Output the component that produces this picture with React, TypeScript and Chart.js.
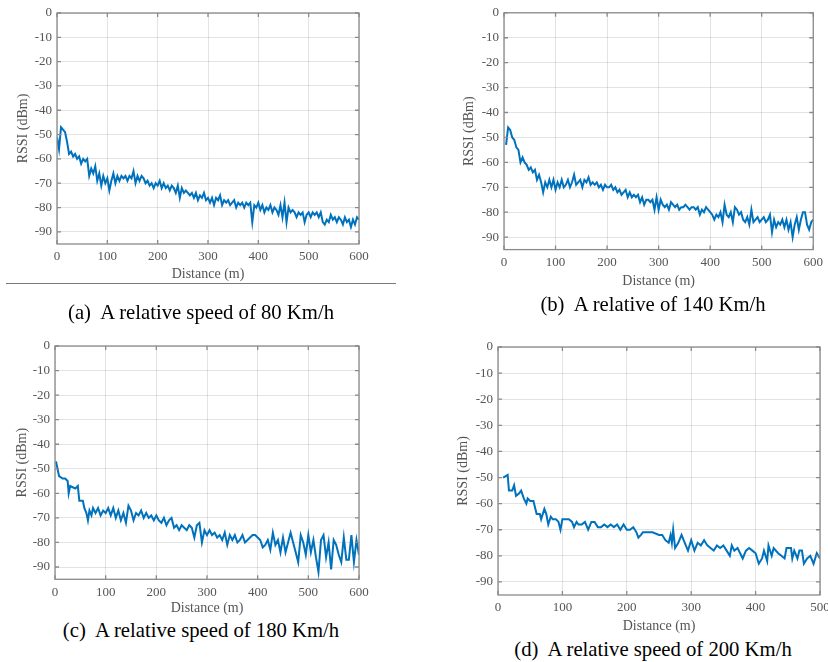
import React, { useEffect, useRef } from 'react';
import { Chart, registerables } from 'chart.js';

Chart.register(...registerables);

// ---------- data ----------
const yTickValues = [0, -10, -20, -30, -40, -50, -60, -70, -80, -90];
const xTicks600 = [0, 100, 200, 300, 400, 500, 600];
const xTicks500 = [0, 100, 200, 300, 400, 500];

const distA = [0,4,8,12,16,20,24,28,32,36,40,44,48,52,56,60,64,68,72,76,80,84,88,92,96,100,104,108,112,116,120,124,128,132,136,140,144,148,152,156,160,164,168,172,176,180,184,188,192,196,200,204,208,212,216,220,224,228,232,236,240,244,248,252,256,260,264,268,272,276,280,284,288,292,296,300,304,308,312,316,320,324,328,332,336,340,344,348,352,356,360,364,368,372,376,380,384,388,392,396,400,404,408,412,416,420,424,428,432,436,440,444,448,452,456,460,464,468,472,476,480,484,488,492,496,500,504,508,512,516,520,524,528,532,536,540,544,548,552,556,560,564,568,572,576,580,584,588,592,596,600];
const rssiA = [-51,-56,-47,-48,-49,-53,-58,-57,-59,-58,-60,-59,-62,-60,-61,-60,-67,-64,-66,-63,-69,-66,-71,-67,-70,-68,-73,-69,-66,-70,-67,-69,-67,-68,-67,-69,-67,-68,-65,-70,-67,-69,-67,-68,-70,-69,-71,-70,-72,-70,-71,-69,-72,-70,-72,-71,-73,-71,-72,-74,-71,-76,-72,-74,-73,-74,-75,-74,-76,-74,-77,-75,-76,-74,-77,-76,-78,-76,-79,-76,-77,-75,-79,-77,-78,-77,-79,-78,-77,-80,-78,-79,-78,-80,-78,-79,-78,-86,-79,-80,-78,-81,-79,-82,-80,-81,-79,-82,-80,-81,-83,-79,-84,-78,-86,-80,-82,-81,-82,-84,-82,-83,-82,-86,-83,-82,-84,-82,-83,-82,-84,-82,-86,-87,-85,-86,-83,-85,-84,-86,-84,-85,-87,-84,-86,-85,-88,-85,-87,-84,-85];

const distB = [4,8,12,16,20,24,28,32,36,40,44,48,52,56,60,64,68,72,76,80,84,88,92,96,100,104,108,112,116,120,124,128,132,136,140,144,148,152,156,160,164,168,172,176,180,184,188,192,196,200,204,208,212,216,220,224,228,232,236,240,244,248,252,256,260,264,268,272,276,280,284,288,292,296,300,304,308,312,316,320,324,328,332,336,340,344,348,352,356,360,364,368,372,376,380,384,388,392,396,400,404,408,412,416,420,424,428,432,436,440,444,448,452,456,460,464,468,472,476,480,484,488,492,496,500,504,508,512,516,520,524,528,532,536,540,544,548,552,556,560,564,568,572,576,580,584,588,592,596,600];
const rssiB = [-53,-46,-47,-50,-51,-54,-55,-60,-58,-60,-61,-63,-62,-64,-63,-67,-65,-68,-72,-68,-70,-67,-70,-67,-71,-68,-70,-67,-70,-69,-67,-70,-68,-65,-69,-68,-67,-70,-67,-68,-66,-69,-68,-69,-68,-70,-69,-71,-69,-70,-70,-69,-71,-70,-72,-71,-73,-72,-71,-74,-72,-74,-73,-74,-73,-76,-74,-77,-75,-75,-76,-75,-79,-74,-79,-75,-77,-78,-77,-79,-76,-77,-78,-77,-79,-78,-78,-77,-78,-79,-78,-78,-79,-78,-81,-79,-80,-78,-79,-80,-81,-83,-81,-82,-80,-84,-77,-81,-82,-80,-84,-78,-79,-81,-80,-83,-84,-82,-85,-79,-84,-83,-82,-84,-83,-82,-84,-83,-81,-88,-83,-86,-84,-85,-83,-86,-83,-87,-84,-90,-85,-82,-87,-83,-80,-80,-85,-87,-84,-83];

const distC = [2,8,15,20,25,27,30,40,45,48,55,58,62,65,68,72,75,80,85,90,95,100,105,110,115,120,125,130,135,140,145,150,155,160,165,170,175,180,185,190,195,200,205,210,215,220,225,230,235,240,245,250,255,260,265,270,275,280,285,290,295,300,305,310,315,320,325,330,335,340,345,350,355,360,365,370,375,380,385,390,395,400,405,410,415,420,425,430,435,440,445,450,455,460,465,470,475,480,485,490,495,500,505,510,515,520,525,530,535,540,545,550,555,560,565,570,575,580,585,590,595,600];
const rssiC = [-47,-53,-54,-54,-55,-60,-57,-58,-57,-63,-63,-66,-68,-71,-67,-69,-66,-68,-66,-69,-67,-68,-66,-69,-66,-70,-67,-71,-68,-72,-65,-67,-71,-68,-69,-67,-70,-68,-70,-69,-71,-69,-71,-72,-70,-73,-71,-70,-74,-73,-75,-73,-74,-75,-73,-74,-78,-73,-72,-80,-75,-77,-75,-77,-76,-78,-77,-79,-76,-81,-77,-79,-77,-80,-79,-77,-80,-79,-78,-77,-77,-78,-79,-82,-81,-79,-83,-76,-81,-79,-84,-78,-84,-80,-76,-80,-84,-88,-77,-80,-85,-77,-84,-79,-86,-92,-79,-77,-86,-80,-91,-79,-81,-85,-88,-78,-87,-87,-77,-88,-79,-85];

const distD = [8,15,17,22,25,28,33,36,40,44,46,50,55,60,65,67,72,75,78,82,85,90,94,97,100,105,110,115,118,122,125,130,135,140,145,150,155,160,165,170,175,180,185,190,195,200,205,210,215,218,222,225,230,240,250,255,260,265,268,270,272,275,280,285,290,295,300,305,310,315,320,325,330,335,340,345,350,355,360,363,367,372,380,385,390,395,400,405,410,413,418,420,425,428,435,440,445,448,455,457,460,465,468,472,475,480,485,490,495,500];
const rssiD = [-50,-49,-55,-55,-53,-57,-56,-55,-58,-60,-58,-59,-59,-64,-64,-66,-62,-64,-68,-65,-66,-66,-67,-70,-66,-66,-66,-67,-69,-67,-68,-68,-67,-70,-67,-67,-69,-69,-68,-69,-68,-69,-68,-70,-68,-70,-70,-69,-71,-73,-72,-71,-71,-71,-72,-72,-74,-75,-72,-75,-70,-77,-75,-72,-75,-78,-74,-78,-75,-76,-74,-76,-77,-78,-76,-77,-76,-78,-80,-76,-78,-77,-81,-78,-77,-78,-79,-83,-81,-78,-82,-76,-80,-77,-79,-80,-81,-77,-77,-81,-78,-81,-78,-78,-83,-81,-80,-83,-79,-81];

// ---------- styles ----------
const SERIF = '"Liberation Serif", "Times New Roman", Times, serif';
const LINE_COLOR = '#0072BD';
const BOX_COLOR = '#8a8a8a';
const GRID_COLOR = 'rgba(0,0,0,0.11)';
const TEXT_COLOR = '#555555';
const TICK_FONT = 13;
const TITLE_FONT = 14;

type PanelSpec = {
  dist: number[];
  rssi: number[];
  xTicks: number[];
  xMax: number;
  cLeft: number; cTop: number; cW: number;
  aL: number; aR: number; aT: number; aB: number;
  yTitleX: number; xTitleY: number;
};

const boxPlugin = {
  id: 'matlabBox',
  afterDatasetsDraw(chart: any) {
    const { ctx, chartArea: a, scales } = chart;
    ctx.save();
    ctx.strokeStyle = BOX_COLOR;
    ctx.lineWidth = 1.3;
    ctx.strokeRect(a.left, a.top, a.right - a.left, a.bottom - a.top);
    const tl = 4;
    ctx.beginPath();
    scales.y.ticks.forEach((t: any) => {
      const p = scales.y.getPixelForValue(t.value);
      ctx.moveTo(a.left, p); ctx.lineTo(a.left + tl, p);
      ctx.moveTo(a.right, p); ctx.lineTo(a.right - tl, p);
    });
    scales.x.ticks.forEach((t: any) => {
      const p = scales.x.getPixelForValue(t.value);
      ctx.moveTo(p, a.bottom); ctx.lineTo(p, a.bottom - tl);
      ctx.moveTo(p, a.top); ctx.lineTo(p, a.top + tl);
    });
    ctx.stroke();
    ctx.restore();
  },
};

function Panel({ spec }: { spec: PanelSpec }) {
  const ref = useRef<HTMLCanvasElement | null>(null);
  const titleHalf = (TITLE_FONT * 1.2) / 2;
  const cH = Math.round(spec.xTitleY + titleHalf - spec.cTop);
  const padLeft = spec.yTitleX - spec.cLeft - titleHalf;
  const yWidth = spec.aL - spec.cLeft - padLeft;
  const xHeight = spec.cTop + cH - spec.aB;

  useEffect(() => {
    if (!ref.current) return;
    const n = Math.min(spec.dist.length, spec.rssi.length);
    const pts = [] as { x: number; y: number }[];
    for (let i = 0; i < n; i++) pts.push({ x: spec.dist[i], y: spec.rssi[i] });
    const chart = new Chart(ref.current, {
      type: 'line',
      data: {
        datasets: [{
          data: pts,
          borderColor: LINE_COLOR,
          borderWidth: 2,
          pointRadius: 0,
          tension: 0,
          fill: false,
        }],
      },
      options: {
        animation: false,
        responsive: false,
        devicePixelRatio: 1,
        layout: {
          padding: {
            left: padLeft,
            top: spec.aT - spec.cTop,
            right: spec.cLeft + spec.cW - spec.aR,
            bottom: 0,
          },
        },
        plugins: { legend: { display: false }, tooltip: { enabled: false }, title: { display: false } },
        scales: {
          x: {
            type: 'linear',
            min: 0,
            max: spec.xMax,
            afterBuildTicks: (s: any) => { s.ticks = spec.xTicks.map((v) => ({ value: v })); },
            afterFit: (s: any) => { s.height = xHeight; },
            grid: { color: GRID_COLOR, drawTicks: false, lineWidth: 1 },
            border: { display: false },
            ticks: {
              color: TEXT_COLOR,
              padding: 5,
              maxRotation: 0,
              autoSkip: false,
              font: { family: SERIF, size: TICK_FONT },
              callback: (v: any) => String(v),
            },
            title: {
              display: true,
              text: 'Distance (m)',
              color: TEXT_COLOR,
              padding: 0,
              font: { family: SERIF, size: TITLE_FONT },
            },
          },
          y: {
            type: 'linear',
            min: -95,
            max: 0,
            afterBuildTicks: (s: any) => { s.ticks = yTickValues.map((v) => ({ value: v })); },
            afterFit: (s: any) => { s.width = yWidth; },
            grid: { color: GRID_COLOR, drawTicks: false, lineWidth: 1 },
            border: { display: false },
            ticks: {
              color: TEXT_COLOR,
              padding: 5,
              autoSkip: false,
              font: { family: SERIF, size: TICK_FONT },
              callback: (v: any) => String(v),
            },
            title: {
              display: true,
              text: 'RSSI (dBm)',
              color: TEXT_COLOR,
              padding: 0,
              font: { family: SERIF, size: TITLE_FONT },
            },
          },
        },
      },
      plugins: [boxPlugin],
    } as any);
    return () => chart.destroy();
  }, []);

  return (
    <canvas
      ref={ref}
      width={spec.cW}
      height={cH}
      style={{ position: 'absolute', left: spec.cLeft, top: spec.cTop, width: spec.cW, height: cH }}
    />
  );
}

const panels: PanelSpec[] = [
  { dist: distA, rssi: rssiA, xTicks: xTicks600, xMax: 600, cLeft: 0, cTop: 0, cW: 414, aL: 57, aR: 359, aT: 13, aB: 244, yTitleX: 23, xTitleY: 275 },
  { dist: distB, rssi: rssiB, xTicks: xTicks600, xMax: 600, cLeft: 414, cTop: 0, cW: 414, aL: 504, aR: 816, aT: 11, aB: 249.6, yTitleX: 469, xTitleY: 282 },
  { dist: distC, rssi: rssiC, xTicks: xTicks600, xMax: 600, cLeft: 0, cTop: 300, cW: 414, aL: 55, aR: 359, aT: 346, aB: 579.3, yTitleX: 22, xTitleY: 609 },
  { dist: distD, rssi: rssiD, xTicks: xTicks500, xMax: 500, cLeft: 414, cTop: 300, cW: 440, aL: 498, aR: 820, aT: 347, aB: 595, yTitleX: 463, xTitleY: 627 },
];

const captions = [
  { text: '(a)  A relative speed of 80 Km/h', cx: 201, cy: 312 },
  { text: '(b)  A relative of 140 Km/h', cx: 653, cy: 304 },
  { text: '(c)  A relative speed of 180 Km/h', cx: 201, cy: 630 },
  { text: '(d)  A relative speed of 200 Km/h', cx: 653, cy: 649 },
];

export default function App() {
  return (
    <div style={{ position: 'absolute', left: 0, top: 0, width: 828, height: 662, overflow: 'hidden', background: '#ffffff' }}>
      {panels.map((p, i) => <Panel key={i} spec={p} />)}
      <div style={{ position: 'absolute', left: 6, top: 283, width: 390, height: 1, background: '#7a7a7a' }} />
      {captions.map((c, i) => (
        <div
          key={i}
          style={{
            position: 'absolute',
            left: c.cx - 200,
            top: c.cy - 12,
            width: 400,
            height: 24,
            lineHeight: '24px',
            textAlign: 'center',
            whiteSpace: 'pre',
            fontFamily: SERIF,
            fontSize: 20.7,
            color: '#000000',
          }}
        >
          {c.text}
        </div>
      ))}
    </div>
  );
}
